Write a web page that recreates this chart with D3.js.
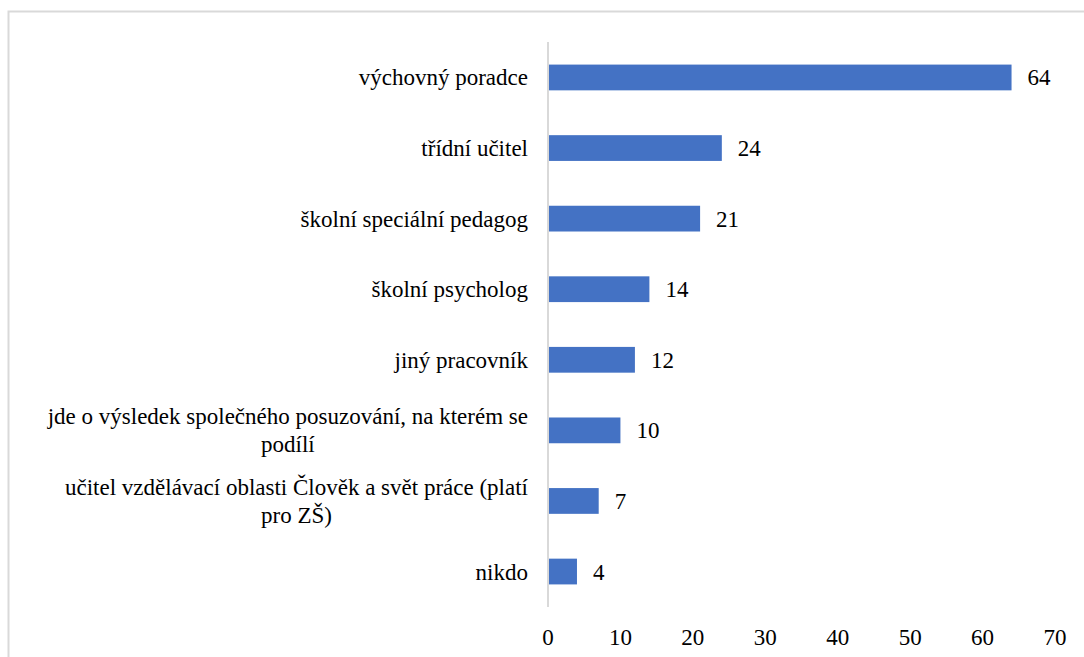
<!DOCTYPE html>
<html>
<head>
<meta charset="utf-8">
<script src="https://cdn.jsdelivr.net/npm/d3@7"></script>
</head>
<body style="margin:0">
<div id="chart"></div>
<script>
// Categories, top to bottom (line breaks as in the original labels)
const categories = [
    "výchovný poradce",
    "třídní učitel",
    "školní speciální pedagog",
    "školní psycholog",
    "jiný pracovník",
    "jde o výsledek společného posuzování, na kterém se\npodílí",
    "učitel vzdělávací oblasti Člověk a svět práce (platí\npro ZŠ)",
    "nikdo"
];
const values = [64, 24, 21, 14, 12, 10, 7, 4];
const xTicks = [0, 10, 20, 30, 40, 50, 60, 70];

const width = 1084, height = 657;
const fontSize = 23;
const fontFamily = "'Liberation Serif', 'Nimbus Roman', FreeSerif, Tinos, serif";

const svg = d3.select("#chart")
    .append("svg")
    .attr("width", width)
    .attr("height", height);

// Frame of the chart area (runs past the right and bottom edges)
svg.append("rect")
    .attr("x", 8.5)
    .attr("y", 11.5)
    .attr("width", 1200)
    .attr("height", 800)
    .attr("fill", "none")
    .attr("stroke", "#d9d9d9")
    .attr("stroke-width", 2);

// Scales
const x = d3.scaleLinear()
    .domain([0, 70])
    .range([548, 1055]);

const y = d3.scaleBand()
    .domain(categories)
    .range([42, 607])
    .paddingInner(0.635)
    .paddingOuter(0.32);

// Bars
svg.append("g")
    .selectAll("rect")
    .data(values)
    .join("rect")
        .attr("x", x(0))
        .attr("y", (d, i) => y(categories[i]))
        .attr("width", d => x(d) - x(0))
        .attr("height", y.bandwidth())
        .attr("fill", "#4472c4");

// Vertical axis line
svg.append("line")
    .attr("x1", x(0))
    .attr("x2", x(0))
    .attr("y1", 42)
    .attr("y2", 607)
    .attr("stroke", "#d9d9d9")
    .attr("stroke-width", 2);

// Value labels
values.forEach(function(d, i){
    svg.append("text")
        .attr("x", x(d) + 16)
        .attr("y", y(categories[i]) + y.bandwidth() / 2 + 8)
        .attr("style", "font-family: " + fontFamily + "; font-size: " + fontSize + "px")
        .text(d);
});

// X tick labels
xTicks.forEach(function(d){
    svg.append("text")
        .attr("x", x(d))
        .attr("y", 645)
        .attr("text-anchor", "middle")
        .attr("style", "font-family: " + fontFamily + "; font-size: " + fontSize + "px")
        .text(d);
});

// Category labels: lines centred on each other, block right-aligned 20px left of the axis
const lineHeight = 28;
const labelRight = x(0) - 20;
categories.forEach(function(cat, i){
    const lines = cat.split("\n");
    const cy = y(cat) + y.bandwidth() / 2;
    const texts = lines.map(function(line, j){
        return svg.append("text")
            .attr("y", cy + (j - (lines.length - 1) / 2) * lineHeight + 8)
            .attr("style", "font-family: " + fontFamily + "; font-size: " + fontSize + "px")
            .text(line);
    });
    const blockWidth = d3.max(texts, t => t.node().getComputedTextLength());
    texts.forEach(t => t.attr("text-anchor", "middle").attr("x", labelRight - blockWidth / 2));
});
</script>
</body>
</html>
